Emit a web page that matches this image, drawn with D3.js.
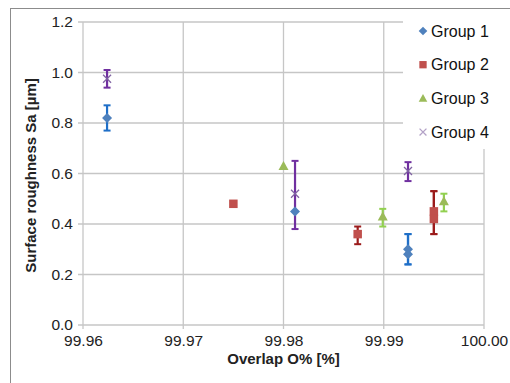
<!DOCTYPE html>
<html><head><meta charset="utf-8">
<script src="https://cdn.jsdelivr.net/npm/d3@7"></script>
<style>body{margin:0;background:#fff}svg{display:block;font-family:"Liberation Sans",Arial,sans-serif}</style>
</head><body><svg id="c" width="510" height="383"></svg>
<script>
const seriesNames = ["Group 1","Group 2","Group 3","Group 4"];
const g1X = [99.9624, 99.98115, 99.99242, 99.99242];
const g1Y = [0.82, 0.45, 0.30, 0.28];
const g1Lo = [0.77, null, 0.24, 0.24];
const g1Hi = [0.87, null, 0.36, 0.36];
const g2X = [99.9750, 99.9874, 99.9950, 99.9950];
const g2Y = [0.48, 0.36, 0.45, 0.42];
const g2Lo = [null, 0.32, 0.36, 0.36];
const g2Hi = [null, 0.39, 0.53, 0.53];
const g3X = [99.9800, 99.9899, 99.9960];
const g3Y = [0.63, 0.43, 0.49];
const g3Lo = [null, 0.39, 0.45];
const g3Hi = [null, 0.46, 0.52];
const g4X = [99.9624, 99.98115, 99.99242];
const g4Y = [0.975, 0.52, 0.61];
const g4Lo = [0.94, 0.38, 0.57];
const g4Hi = [1.01, 0.65, 0.645];
const xTicks = [99.96, 99.97, 99.98, 99.99, 100.00];
const yTicks = [0, 0.2, 0.4, 0.6, 0.8, 1.0, 1.2];

const groups = [
  {name: seriesNames[0], x: g1X, y: g1Y, lo: g1Lo, hi: g1Hi, shape: "diamond", fill: "#4F81BD", err: "#1F6FC8", legend: "#4F81BD"},
  {name: seriesNames[1], x: g2X, y: g2Y, lo: g2Lo, hi: g2Hi, shape: "square", fill: "#C0504D", err: "#9B1B1B", legend: "#C0504D"},
  {name: seriesNames[2], x: g3X, y: g3Y, lo: g3Lo, hi: g3Hi, shape: "triangle", fill: "#9BBB59", err: "#92D050", legend: "#9BBB59"},
  {name: seriesNames[3], x: g4X, y: g4Y, lo: g4Lo, hi: g4Hi, shape: "x", fill: "#8064A2", err: "#7030A0", legend: "#B3A2C7"}
];

const svg = d3.select("#c");
const L = 83, R = 484, T = 22, B = 325;
const x = d3.scaleLinear().domain([99.96, 100.00]).range([L, R]);
const y = d3.scaleLinear().domain([0, 1.2]).range([B, T]);

svg.append("rect").attr("x", 10.5).attr("y", 8.5).attr("width", 520).attr("height", 400)
  .attr("fill", "none").attr("stroke", "#8c8c8c").attr("stroke-width", 1);

const grid = "#c6c6c6";
svg.append("g").selectAll("line").data(yTicks).join("line")
  .attr("x1", L - 5).attr("x2", R).attr("y1", d => y(d)).attr("y2", d => y(d))
  .attr("stroke", grid).attr("stroke-width", 1.3);
svg.append("g").selectAll("line").data(xTicks).join("line")
  .attr("x1", d => x(d)).attr("x2", d => x(d)).attr("y1", T).attr("y2", B + 4)
  .attr("stroke", grid).attr("stroke-width", 1.3);

const xAxis = d3.axisBottom(x).tickValues(xTicks).tickFormat(d3.format(".2f")).tickSize(0).tickPadding(10);
const gx = svg.append("g").attr("transform", `translate(0,${B})`).call(xAxis);
gx.select(".domain").remove();
gx.selectAll("text").attr("font-size", 15.5).attr("fill", "#222").attr("font-family", "Liberation Sans, Arial");
const yAxis = d3.axisLeft(y).tickValues(yTicks).tickFormat(d3.format(".1f")).tickSize(0).tickPadding(10);
const gy = svg.append("g").attr("transform", `translate(${L},0)`).call(yAxis);
gy.select(".domain").remove();
gy.selectAll("text").attr("font-size", 15.5).attr("fill", "#222").attr("font-family", "Liberation Sans, Arial");

svg.append("text").attr("x", (L + R) / 2).attr("y", 364).attr("text-anchor", "middle")
  .attr("font-size", 15).attr("font-weight", "bold").attr("fill", "#222").text("Overlap O% [%]");
svg.append("text").attr("transform", `translate(36,${(T + B) / 2 + 2}) rotate(-90)`).attr("text-anchor", "middle")
  .attr("font-size", 15).attr("font-weight", "bold").attr("fill", "#222").text("Surface roughness Sa [µm]");

function drawMarker(sel, shape, color, s) {
  if (shape === "diamond") sel.append("path").attr("d", `M0,${-s}L${s},0L0,${s}L${-s},0Z`).attr("fill", color);
  else if (shape === "square") sel.append("rect").attr("x", -s * 0.85).attr("y", -s * 0.85).attr("width", s * 1.7).attr("height", s * 1.7).attr("fill", color);
  else if (shape === "triangle") sel.append("path").attr("d", `M0,${-s}L${s},${s * 0.8}L${-s},${s * 0.8}Z`).attr("fill", color);
  else sel.append("path").attr("d", `M${-s * 0.8},${-s * 0.8}L${s * 0.8},${s * 0.8}M${s * 0.8},${-s * 0.8}L${-s * 0.8},${s * 0.8}`)
    .attr("stroke", color).attr("stroke-width", 1.3).attr("fill", "none");
}

const errLayer = svg.append("g");
const markLayer = svg.append("g");
groups.forEach(gr => {
  const pts = gr.x.map((xv, i) => ({x: xv, y: gr.y[i], lo: gr.lo[i], hi: gr.hi[i]}));
  pts.filter(p => p.lo != null).forEach(p => {
    const cx = x(p.x);
    errLayer.append("line").attr("x1", cx).attr("x2", cx).attr("y1", y(p.lo)).attr("y2", y(p.hi)).attr("stroke", gr.err).attr("stroke-width", 2.2);
    [p.lo, p.hi].forEach(v => errLayer.append("line").attr("x1", cx - 3.5).attr("x2", cx + 3.5).attr("y1", y(v)).attr("y2", y(v)).attr("stroke", gr.err).attr("stroke-width", 2));
  });
  pts.forEach(p => {
    const m = markLayer.append("g").attr("transform", `translate(${x(p.x)},${y(p.y)})`);
    drawMarker(m, gr.shape, gr.fill, 5);
  });
});

const lg = svg.append("g");
lg.append("rect").attr("x", 403).attr("y", 9).attr("width", 110).attr("height", 140).attr("fill", "#fff");
groups.forEach((gr, i) => {
  const cy = 31 + i * 33.7;
  const m = lg.append("g").attr("transform", `translate(423,${cy})`);
  drawMarker(m, gr.shape, gr.legend, 4.3);
  lg.append("text").attr("x", 431).attr("y", cy + 5.5).attr("font-size", 16).attr("fill", "#111").text(gr.name);
});
</script></body></html>
